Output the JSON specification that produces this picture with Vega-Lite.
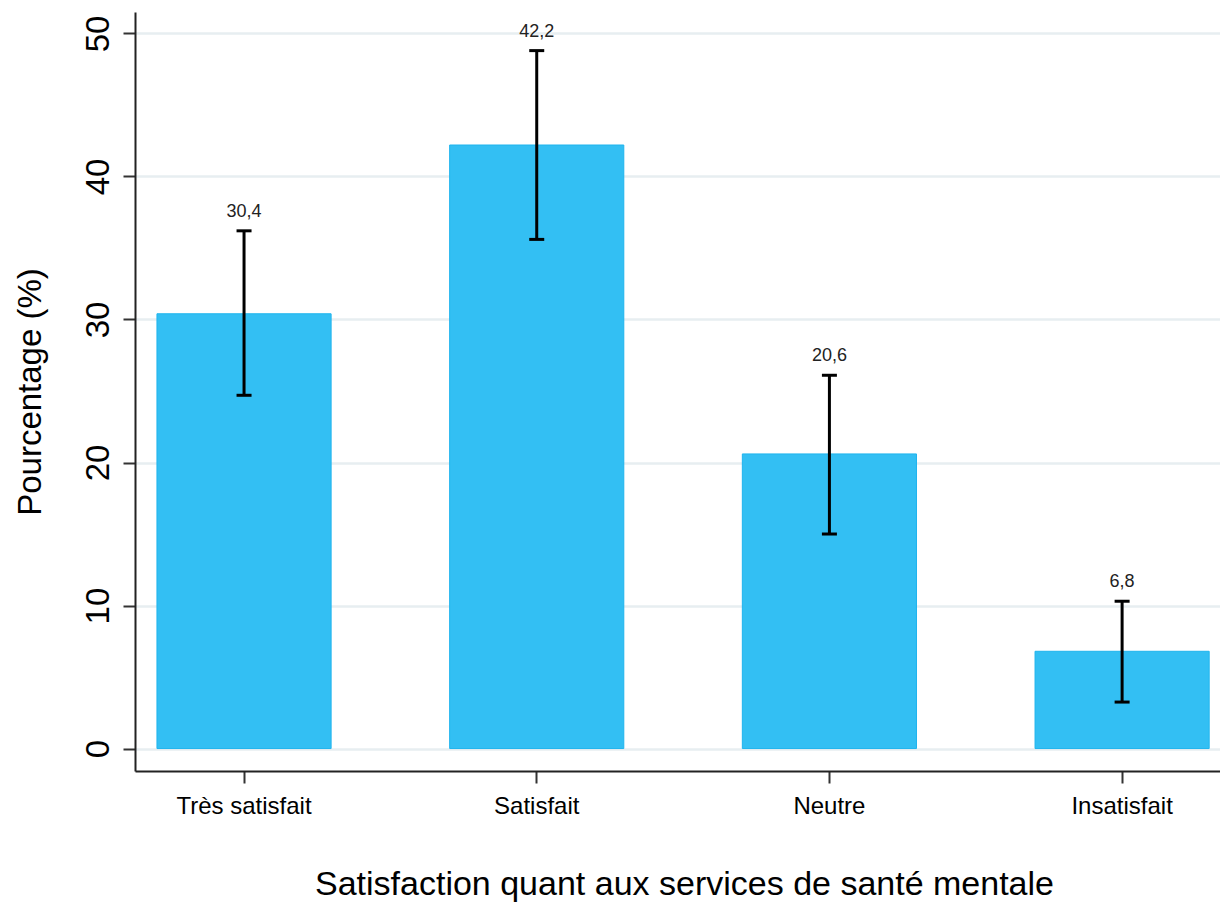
{
  "$schema": "https://vega.github.io/schema/vega-lite/v6.json",
  "width": 1085,
  "height": 759,
  "autosize": {"type": "none"},
  "padding": {"left": 135, "top": 12, "right": 0, "bottom": 131},
  "background": "white",
  "config": {
    "view": {"stroke": null},
    "font": "Liberation Sans",
    "locale": {
      "number": {"decimal": ",", "thousands": " ", "grouping": [3], "currency": ["", " €"]}
    }
  },
  "data": {
    "values": [
      {"niveau": "Très satisfait", "pct": 30.4, "bas": 24.7, "haut": 36.2},
      {"niveau": "Satisfait", "pct": 42.2, "bas": 35.6, "haut": 48.8},
      {"niveau": "Neutre", "pct": 20.6, "bas": 15.0, "haut": 26.1},
      {"niveau": "Insatisfait", "pct": 6.8, "bas": 3.25, "haut": 10.3}
    ]
  },
  "encoding": {
    "x": {
      "field": "niveau",
      "type": "nominal",
      "sort": null,
      "scale": {"paddingInner": 0.405, "paddingOuter": 0.056, "align": 0.67},
      "axis": {
        "title": "Satisfaction quant aux services de santé mentale",
        "titleFontSize": 34,
        "titleFontWeight": "normal",
        "titleColor": "#000000",
        "titleX": 549,
        "titleY": 123,
        "titleAlign": "center",
        "titleBaseline": "alphabetic",
        "labelAngle": 0,
        "labelFontSize": 24,
        "labelColor": "#000000",
        "labelBaseline": "alphabetic",
        "labelPadding": 30,
        "tickSize": 12,
        "tickWidth": 2,
        "tickColor": "#333333",
        "domainColor": "#222222",
        "domainWidth": 2,
        "grid": false
      }
    }
  },
  "layer": [
    {
      "mark": {"type": "bar", "fill": "#33BFF3", "stroke": "#1FB4EE", "strokeWidth": 1},
      "encoding": {
        "y": {
          "field": "pct",
          "type": "quantitative",
          "scale": {"domain": [-1.57, 51.5], "nice": false, "zero": false},
          "axis": {
            "values": [0, 10, 20, 30, 40, 50],
            "title": "Pourcentage (%)",
            "titleFontSize": 33,
            "titleFontWeight": "normal",
            "titleColor": "#000000",
            "titleAngle": -90,
            "titleX": -95,
            "titleY": 379.5,
            "titleAlign": "center",
            "titleBaseline": "alphabetic",
            "labelAngle": -90,
            "labelAlign": "center",
            "labelBaseline": "alphabetic",
            "labelPadding": 15,
            "labelFontSize": 33,
            "labelColor": "#000000",
            "tickSize": 12,
            "tickWidth": 2,
            "tickColor": "#333333",
            "domainColor": "#222222",
            "domainWidth": 2,
            "grid": true,
            "gridColor": "#E7EEF1",
            "gridWidth": 2.5
          }
        },
        "y2": {"datum": 0}
      }
    },
    {
      "mark": {"type": "rule", "color": "#000000", "strokeWidth": 3},
      "encoding": {
        "y": {"field": "bas", "type": "quantitative"},
        "y2": {"field": "haut"}
      }
    },
    {
      "mark": {"type": "tick", "color": "#000000", "size": 15, "thickness": 3, "opacity": 1},
      "encoding": {"y": {"field": "bas", "type": "quantitative"}}
    },
    {
      "mark": {"type": "tick", "color": "#000000", "size": 15, "thickness": 3, "opacity": 1},
      "encoding": {"y": {"field": "haut", "type": "quantitative"}}
    },
    {
      "mark": {"type": "text", "fontSize": 18, "color": "#222222", "baseline": "alphabetic", "align": "center", "dy": -14},
      "encoding": {
        "y": {"field": "haut", "type": "quantitative"},
        "text": {"field": "pct", "type": "quantitative", "format": ".1f"}
      }
    }
  ]
}
